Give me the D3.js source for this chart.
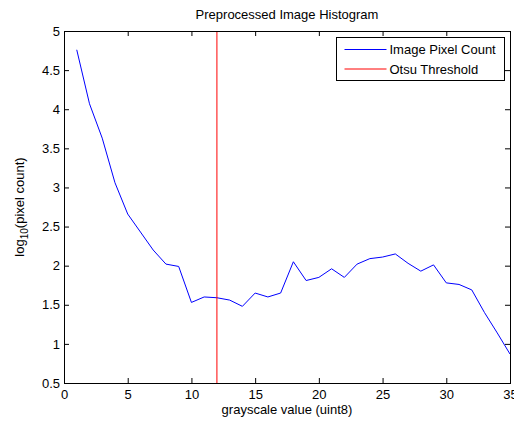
<!DOCTYPE html>
<html>
<head>
<meta charset="utf-8">
<script src="https://cdn.jsdelivr.net/npm/d3@7"></script>
<style>
  body { margin: 0; background: #fff; }
  text { font-family: "Liberation Sans", Arial, sans-serif; fill: #000; }
</style>
</head>
<body>
<svg id="chart" width="514" height="423"></svg>
<script>
// grayscale bins and log10 of their pixel counts
var grayLevels = [1, 2, 3, 4, 5, 6, 7, 8, 9, 10, 11, 12, 13, 14, 15, 16, 17, 18,
  19, 20, 21, 22, 23, 24, 25, 26, 27, 28, 29, 30, 31, 32, 33, 34, 35];
var logCounts = [4.76, 4.07, 3.63, 3.06, 2.66, 2.43, 2.2, 2.02, 1.99, 1.53, 1.6, 1.59,
  1.56, 1.48, 1.65, 1.6, 1.65, 2.05, 1.81, 1.85, 1.96, 1.85, 2.02, 2.09, 2.11,
  2.15, 2.03, 1.93, 2.01, 1.78, 1.76, 1.69, 1.4, 1.14, 0.87];
var otsuThreshold = 12;
var xTicks = [0, 5, 10, 15, 20, 25, 30, 35];
var yTicks = [0.5, 1, 1.5, 2, 2.5, 3, 3.5, 4, 4.5, 5];
var legendItems = [
  { label: "Image Pixel Count", color: "#0000ff" },
  { label: "Otsu Threshold", color: "#ff0000" }
];

var svg = d3.select("#chart");
var margin = { left: 64, top: 31, right: 4, bottom: 40 };
var width = +svg.attr("width") - margin.left - margin.right;
var height = +svg.attr("height") - margin.top - margin.bottom;

var x = d3.scaleLinear().domain([0, 35]).range([0, width]);
var y = d3.scaleLinear().domain([0.5, 5]).range([height, 0]);

var g = svg.append("g")
    .attr("transform", "translate(" + margin.left + "," + margin.top + ")");

// data line
var line = d3.line()
    .x(function(d, i) { return x(grayLevels[i]); })
    .y(function(d) { return y(d); });

g.append("path")
    .datum(logCounts)
    .attr("fill", "none")
    .attr("stroke", "#0000ff")
    .attr("stroke-width", 1)
    .attr("d", line);

// threshold
g.append("line")
    .attr("x1", x(otsuThreshold)).attr("x2", x(otsuThreshold))
    .attr("y1", 0).attr("y2", height)
    .attr("stroke", "#ff0000")
    .attr("stroke-width", 1);

// axes, ticks pointing inward like matlab
function styleAxis(sel) {
  sel.select(".domain").remove();
  sel.selectAll("line").attr("stroke", "#000");
  sel.selectAll("text").style("font-size", "13px")
    .style("font-family", "'Liberation Sans', Arial, sans-serif");
}

g.append("g")
    .attr("transform", "translate(0," + height + ")")
    .call(d3.axisBottom(x).tickValues(xTicks).tickFormat(d3.format("d"))
      .tickSizeInner(-5).tickSizeOuter(0).tickPadding(7))
    .call(styleAxis);

g.append("g")
    .call(d3.axisTop(x).tickValues(xTicks).tickSizeInner(-5).tickSizeOuter(0).tickFormat(""))
    .call(styleAxis);

g.append("g")
    .call(d3.axisLeft(y).tickValues(yTicks).tickFormat(d3.format("~g"))
      .tickSizeInner(-5).tickSizeOuter(0).tickPadding(4))
    .call(styleAxis);

g.append("g")
    .attr("transform", "translate(" + width + ",0)")
    .call(d3.axisRight(y).tickValues(yTicks).tickSizeInner(-5).tickSizeOuter(0).tickFormat(""))
    .call(styleAxis);

g.append("rect")
    .attr("x", 0.5).attr("y", 0.5)
    .attr("width", width).attr("height", height)
    .attr("fill", "none")
    .attr("stroke", "#000");

// titles
svg.append("text")
    .attr("x", margin.left + width / 2)
    .attr("y", 19)
    .attr("text-anchor", "middle")
    .style("font-size", "13px")
    .text("Preprocessed Image Histogram");

svg.append("text")
    .attr("x", margin.left + width / 2)
    .attr("y", 414)
    .attr("text-anchor", "middle")
    .style("font-size", "13px")
    .text("grayscale value (uint8)");

var ylab = svg.append("text")
    .attr("transform", "translate(24," + (margin.top + height / 2) + ") rotate(-90)")
    .attr("text-anchor", "middle")
    .style("font-size", "13px");
ylab.append("tspan").text("log");
ylab.append("tspan").attr("dy", 4).style("font-size", "10px").text("10");
ylab.append("tspan").attr("dy", -4).text("(pixel count)");

// legend
var legend = svg.append("g").attr("transform", "translate(336.5,37.5)");
legend.append("rect")
    .attr("width", 168).attr("height", 43)
    .attr("fill", "#fff")
    .attr("stroke", "#000");

var rows = legend.selectAll(".row")
    .data(legendItems)
    .enter().append("g")
    .attr("transform", function(d, i) { return "translate(0," + (12 + i * 19.5) + ")"; });

rows.append("line")
    .attr("x1", 8).attr("x2", 50)
    .attr("stroke", function(d) { return d.color; });

rows.append("text")
    .attr("x", 53)
    .attr("dy", "0.35em")
    .style("font-size", "13px")
    .text(function(d) { return d.label; });
</script>
</body>
</html>
